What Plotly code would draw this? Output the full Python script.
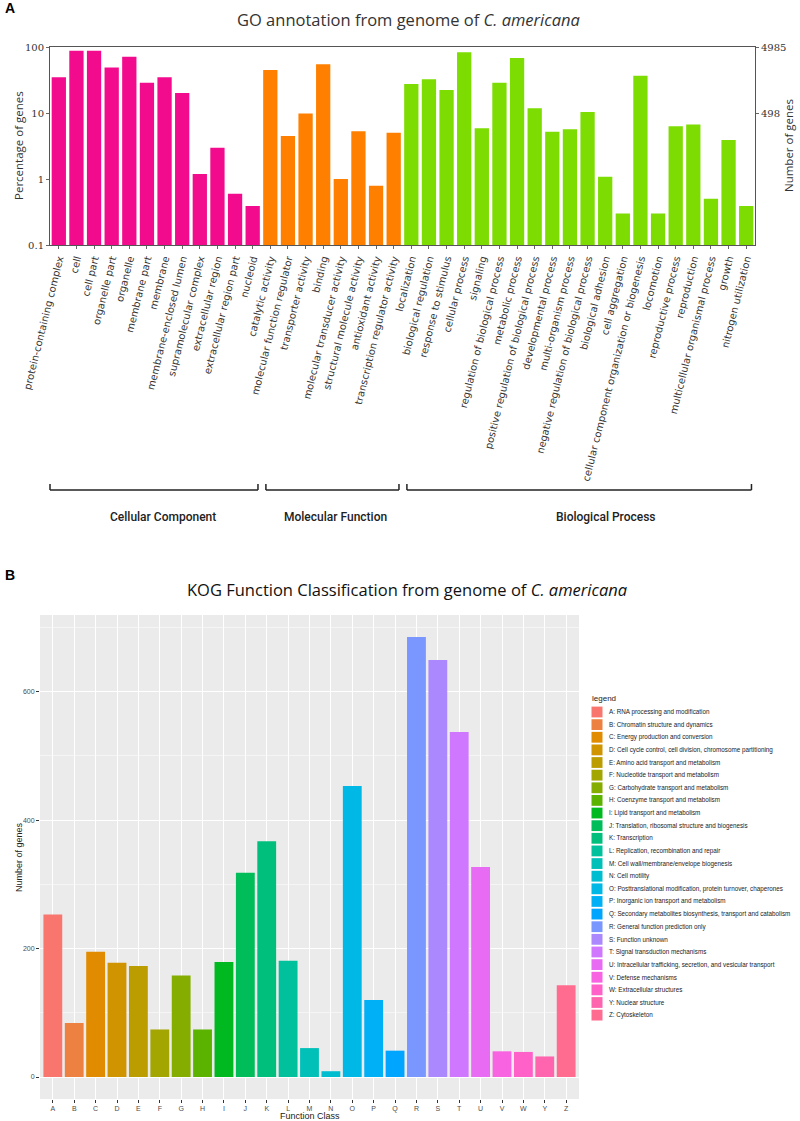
import math
import plotly.graph_objects as go

# ---------------- Data: GO annotation (panel A) ----------------
cc_terms = ["protein-containing complex", "cell", "cell part", "organelle part", "organelle",
            "membrane part", "membrane", "membrane-enclosed lumen", "supramolecular complex",
            "extracellular region", "extracellular region part", "nucleoid"]
cc_pct = [34.7, 88, 88, 49, 71, 28.8, 34.7, 20.1, 1.19, 2.98, 0.6, 0.39]

mf_terms = ["catalytic activity", "molecular function regulator", "transporter activity", "binding",
            "molecular transducer activity", "structural molecule activity", "antioxidant activity",
            "transcription regulator activity"]
mf_pct = [44.8, 4.49, 9.8, 55, 1.0, 5.3, 0.79, 5.0]

bp_terms = ["localization", "biological regulation", "response to stimulus", "cellular process",
            "signaling", "regulation of biological process", "metabolic process",
            "positive regulation of biological process", "developmental process",
            "multi-organism process", "negative regulation of biological process",
            "biological adhesion", "cell aggregation",
            "cellular component organization or biogenesis", "locomotion",
            "reproductive process", "reproduction", "multicellular organismal process",
            "growth", "nitrogen utilization"]
bp_pct = [27.5, 32.4, 22.3, 83, 5.86, 28.8, 68, 11.8, 5.2, 5.66, 10.4, 1.08, 0.3, 36.8, 0.3,
          6.28, 6.7, 0.5, 3.9, 0.39]

go_groups = ["Cellular Component", "Molecular Function", "Biological Process"]
go_colors = ["#F20C8D", "#FF8000", "#7DDC02"]
total_genes = 4985
right_ticks = [498, 4985]
left_ticks = [0.1, 1, 10, 100]

# ---------------- Data: KOG classification (panel B) ----------------
kog_classes = list("ABCDEFGHIJKLMNOPQRSTUVWYZ")
kog_counts = [253, 84, 195, 178, 173, 74, 158, 74, 179, 318, 367, 181, 45, 9, 453, 120, 41,
              685, 649, 537, 327, 40, 39, 32, 143]
kog_desc = [
    "RNA processing and modification",
    "Chromatin structure and dynamics",
    "Energy production and conversion",
    "Cell cycle control, cell division, chromosome partitioning",
    "Amino acid transport and metabolism",
    "Nucleotide transport and metabolism",
    "Carbohydrate transport and metabolism",
    "Coenzyme transport and metabolism",
    "Lipid transport and metabolism",
    "Translation, ribosomal structure and biogenesis",
    "Transcription",
    "Replication, recombination and repair",
    "Cell wall/membrane/envelope biogenesis",
    "Cell motility",
    "Posttranslational modification, protein turnover, chaperones",
    "Inorganic ion transport and metabolism",
    "Secondary metabolites biosynthesis, transport and catabolism",
    "General function prediction only",
    "Function unknown",
    "Signal transduction mechanisms",
    "Intracellular trafficking, secretion, and vesicular transport",
    "Defense mechanisms",
    "Extracellular structures",
    "Nuclear structure",
    "Cytoskeleton",
]
kog_yticks = [0, 200, 400, 600]
kog_yminor = [100, 300, 500, 700]


# ---------------- helpers ----------------
FW, FH = 800, 1121


def px(x):
    return x / FW


def py(y):
    return 1 - y / FH


def hcl_hex(h, c=100.0, l=65.0):
    hr = math.radians(h)
    U, V = c * math.cos(hr), c * math.sin(hr)
    Y = ((l + 16) / 116) ** 3
    un, vn = 0.1978398, 0.4683363
    u = U / (13 * l) + un
    v = V / (13 * l) + vn
    X = 9 * Y * u / (4 * v)
    Z = Y * (12 - 3 * u - 20 * v) / (4 * v)
    r = 3.240479 * X - 1.537150 * Y - 0.498535 * Z
    g = -0.969256 * X + 1.875992 * Y + 0.041556 * Z
    b = 0.055648 * X - 0.204043 * Y + 1.057311 * Z

    def gam(t):
        t = 12.92 * t if t <= 0.0031308 else 1.055 * (t ** (1 / 2.4)) - 0.055
        return max(0, min(255, int(round(t * 255))))
    return "#%02X%02X%02X" % (gam(r), gam(g), gam(b))


n_k = len(kog_classes)
kog_colors = [hcl_hex(15 + i * 360 / n_k) for i in range(n_k)]

fig = go.Figure()

# ---------------- Panel A ----------------
all_terms = cc_terms + mf_terms + bp_terms
for terms, vals, col, name in zip([cc_terms, mf_terms, bp_terms], [cc_pct, mf_pct, bp_pct],
                                  go_colors, go_groups):
    fig.add_trace(go.Bar(x=terms, y=vals, marker=dict(color=col, line=dict(width=0)),
                         name=name, showlegend=False, xaxis="x", yaxis="y"))
# invisible trace on the right axis so it is drawn
fig.add_trace(go.Scatter(x=[all_terms[0]], y=[None], xaxis="x", yaxis="y2",
                         showlegend=False, hoverinfo="skip"))

xa_dom = [px(50), px(755)]
ya_dom = [py(245), py(47)]

# ---------------- Panel B ----------------
fig.add_trace(go.Bar(x=kog_classes, y=kog_counts, width=0.88,
                     marker=dict(color=kog_colors, line=dict(width=0)),
                     showlegend=False, xaxis="x2", yaxis="y3"))

xb_dom = [px(40), px(579)]
yb_dom = [py(1099), py(615)]
ymax = max(kog_counts)
pad = 0.05 * ymax

axis_font_a = dict(family="DejaVu Serif", size=10, color="#333333")

fig.update_layout(
    width=FW, height=FH,
    margin=dict(l=0, r=0, t=0, b=0),
    paper_bgcolor="white",
    plot_bgcolor="white",
    bargap=0.19,
    xaxis=dict(domain=xa_dom, anchor="y", type="category", automargin=False,
               categoryorder="array", categoryarray=all_terms,
               tickangle=-76, tickfont=dict(family="DejaVu Sans", size=10, color="#333333"),
               ticks="outside", ticklen=3, tickcolor="#666666",
               showline=True, linecolor="#555555", linewidth=1, mirror=True,
               showgrid=False, range=[-0.5, len(all_terms) - 0.5]),
    yaxis=dict(domain=ya_dom, anchor="x", type="log", range=[-1, 2], automargin=False,
               tickvals=left_ticks, ticktext=["0.1", "1", "10", "100"],
               tickfont=axis_font_a, ticks="outside", ticklen=3, tickcolor="#666666",
               showline=True, linecolor="#555555", linewidth=1, showgrid=False,
               zeroline=False),
    yaxis2=dict(overlaying="y", anchor="x", side="right", type="log", automargin=False,
                range=[math.log10(total_genes / 1000), math.log10(total_genes)],
                tickvals=right_ticks, ticktext=[str(v) for v in right_ticks],
                tickfont=axis_font_a, ticks="outside", ticklen=3, tickcolor="#666666",
                showline=True, linecolor="#555555", linewidth=1, showgrid=False,
                zeroline=False),
    xaxis2=dict(domain=xb_dom, anchor="y3", type="category", automargin=False,
                categoryorder="array", categoryarray=kog_classes,
                range=[-0.6, n_k - 0.4],
                tickfont=dict(family="Liberation Sans", size=7, color="#4D4D4D"),
                ticks="outside", ticklen=3, tickcolor="#333333", tickwidth=0.8,
                showgrid=True, gridcolor="white", gridwidth=1,
                showline=False, zeroline=False),
    yaxis3=dict(domain=yb_dom, anchor="x2", range=[-pad, ymax + pad], automargin=False,
                tickvals=kog_yticks, ticktext=[str(v) for v in kog_yticks],
                tickfont=dict(family="Liberation Sans", size=7, color="#4D4D4D"),
                ticks="outside", ticklen=3, tickcolor="#333333", tickwidth=0.8,
                showgrid=True, gridcolor="white", gridwidth=1,
                minor=dict(tickvals=kog_yminor, showgrid=True, gridcolor="#F5F5F5",
                           gridwidth=0.6, ticks=""),
                showline=False, zeroline=False),
)

shapes = []
annotations = []

# panel B background
shapes.append(dict(type="rect", xref="paper", yref="paper", x0=xb_dom[0], x1=xb_dom[1],
                   y0=yb_dom[0], y1=yb_dom[1], fillcolor="#EBEBEB", line=dict(width=0),
                   layer="below"))

# Panel labels
annotations.append(dict(text="<b>A</b>", x=px(3), y=py(8), xref="paper", yref="paper",
                        showarrow=False, xanchor="left", yanchor="middle",
                        font=dict(family="Liberation Sans", size=14, color="black")))
annotations.append(dict(text="<b>B</b>", x=px(3), y=py(575), xref="paper", yref="paper",
                        showarrow=False, xanchor="left", yanchor="middle",
                        font=dict(family="Liberation Sans", size=14, color="black")))

# Titles
annotations.append(dict(text="GO annotation from genome of <i>C. americana</i>",
                        x=px(408), y=py(20), xref="paper", yref="paper", showarrow=False,
                        xanchor="center", yanchor="middle",
                        font=dict(family="Open Sans", size=16.5, color="#333333")))
annotations.append(dict(text="KOG Function Classification from genome of <i>C. americana</i>",
                        x=px(407), y=py(589), xref="paper", yref="paper", showarrow=False,
                        xanchor="center", yanchor="middle",
                        font=dict(family="Open Sans", size=16.5, color="#111111")))

# Axis titles panel A
annotations.append(dict(text="Percentage of genes", x=px(18), y=(ya_dom[0] + ya_dom[1]) / 2,
                        xref="paper", yref="paper", showarrow=False, textangle=-90,
                        xanchor="center", yanchor="middle",
                        font=dict(family="Open Sans", size=11.5, color="#333333")))
annotations.append(dict(text="Number of genes", x=px(788), y=(ya_dom[0] + ya_dom[1]) / 2,
                        xref="paper", yref="paper", showarrow=False, textangle=-90,
                        xanchor="center", yanchor="middle",
                        font=dict(family="Open Sans", size=11.5, color="#333333")))

# Brackets for GO groups
n_all = len(all_terms)
step = (xa_dom[1] - xa_dom[0]) / n_all


def cat_x(pos):
    return xa_dom[0] + (pos + 0.5) * step


group_sizes = [len(cc_terms), len(mf_terms), len(bp_terms)]
label_shift = [0.5, 0.2, 1.5]
start = 0
y_line, y_tick = py(490), py(484)
for gi, (gname, gs) in enumerate(zip(go_groups, group_sizes)):
    x0 = cat_x(start - (0.5 if gi == 0 else 0.25))
    x1 = cat_x(start + gs - 1 + 0.3)
    line = dict(color="#222222", width=1.5)
    shapes.append(dict(type="line", xref="paper", yref="paper", x0=x0, x1=x1, y0=y_line,
                       y1=y_line, line=line))
    shapes.append(dict(type="line", xref="paper", yref="paper", x0=x0, x1=x0, y0=y_line,
                       y1=y_tick, line=line))
    shapes.append(dict(type="line", xref="paper", yref="paper", x0=x1, x1=x1, y0=y_line,
                       y1=y_tick, line=line))
    annotations.append(dict(text=gname, x=(x0 + x1) / 2 + label_shift[gi] * step,
                            y=py(517), xref="paper", yref="paper", showarrow=False,
                            xanchor="center", yanchor="middle",
                            font=dict(family="Roboto", size=12, color="#222222", weight=500)))
    start += gs

# Axis titles panel B
annotations.append(dict(text="Number of genes", x=px(19), y=(yb_dom[0] + yb_dom[1]) / 2,
                        xref="paper", yref="paper", showarrow=False, textangle=-90,
                        xanchor="center", yanchor="middle",
                        font=dict(family="Liberation Sans", size=9, color="#222222")))
annotations.append(dict(text="Function Class", x=(xb_dom[0] + xb_dom[1]) / 2, y=py(1116),
                        xref="paper", yref="paper", showarrow=False,
                        xanchor="center", yanchor="middle",
                        font=dict(family="Liberation Sans", size=9, color="#222222")))

# Manual legend panel B
annotations.append(dict(text="legend", x=px(590), y=py(698), xref="paper", yref="paper",
                        showarrow=False, xanchor="left", yanchor="middle",
                        font=dict(family="Liberation Sans", size=8, color="#222222")))
for i, (cls, desc, col) in enumerate(zip(kog_classes, kog_desc, kog_colors)):
    yc = 712 + i * 12.63
    shapes.append(dict(type="rect", xref="paper", yref="paper", x0=px(591.5), x1=px(602.5),
                       y0=py(yc + 5.4), y1=py(yc - 5.4), fillcolor=col, line=dict(width=0)))
    annotations.append(dict(text=f"{cls}: {desc}", x=px(607), y=py(yc), xref="paper",
                            yref="paper", showarrow=False, xanchor="left", yanchor="middle",
                            font=dict(family="Liberation Sans", size=6.3, color="#222222")))

fig.update_layout(shapes=shapes, annotations=annotations)
fig.write_html("out.html", config={"displayModeBar": False},
               post_script="document.body.style.margin='0';document.body.style.overflow='hidden';")
